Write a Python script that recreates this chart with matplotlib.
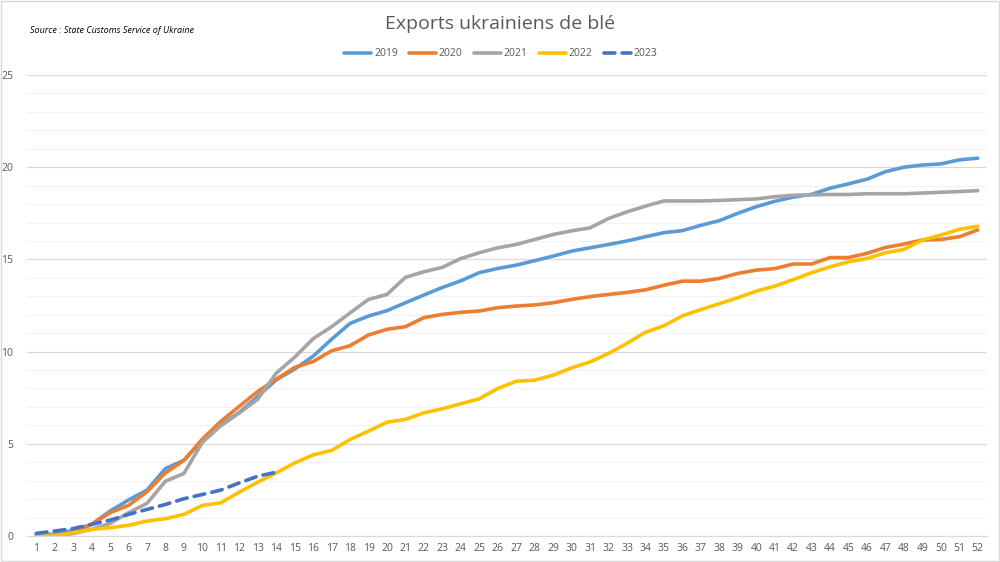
import matplotlib.pyplot as plt
from matplotlib.patches import Rectangle

plt.rcParams['font.family'] = ['Open Sans', 'DejaVu Sans']

# Exports cumulés de blé (Mt) par semaine de campagne
weeks = list(range(1, 53))

exports_2019 = [0.04, 0.1, 0.3, 0.63, 1.35, 1.95, 2.49, 3.66, 4.1, 5.2,
                6.04, 6.7, 7.57, 8.47, 9.05, 9.75, 10.67, 11.53, 11.93, 12.22,
                12.65, 13.07, 13.48, 13.84, 14.28, 14.51, 14.69, 14.93, 15.18, 15.45,
                15.63, 15.81, 16.0, 16.23, 16.45, 16.56, 16.85, 17.1, 17.5, 17.86,
                18.15, 18.38, 18.53, 18.86, 19.1, 19.35, 19.76, 20.0, 20.12, 20.18,
                20.4, 20.49]
exports_2020 = [0.0, 0.04, 0.18, 0.63, 1.26, 1.66, 2.4, 3.42, 4.1, 5.26,
                6.22, 7.03, 7.84, 8.5, 9.14, 9.46, 10.04, 10.32, 10.9, 11.21,
                11.35, 11.84, 12.02, 12.13, 12.2, 12.38, 12.47, 12.53, 12.65, 12.83,
                12.98, 13.1, 13.21, 13.35, 13.6, 13.82, 13.82, 13.97, 14.24, 14.42,
                14.5, 14.75, 14.75, 15.1, 15.1, 15.33, 15.65, 15.83, 16.05, 16.08,
                16.23, 16.6]
exports_2021 = [0.0, 0.04, 0.13, 0.36, 0.68, 1.26, 1.77, 2.97, 3.39, 5.08,
                5.98, 6.67, 7.42, 8.83, 9.7, 10.7, 11.35, 12.1, 12.83, 13.1,
                14.03, 14.33, 14.57, 15.05, 15.36, 15.63, 15.81, 16.08, 16.35, 16.55,
                16.71, 17.22, 17.58, 17.89, 18.17, 18.17, 18.17, 18.2, 18.24, 18.28,
                18.4, 18.48, 18.5, 18.52, 18.52, 18.56, 18.56, 18.56, 18.6, 18.64,
                18.68, 18.73]
exports_2022 = [0.0, 0.0, 0.18, 0.36, 0.45, 0.58, 0.81, 0.94, 1.17, 1.66,
                1.8, 2.38, 2.92, 3.42, 3.96, 4.4, 4.64, 5.23, 5.69, 6.17,
                6.32, 6.68, 6.9, 7.17, 7.44, 8.0, 8.39, 8.45, 8.72, 9.12,
                9.44, 9.9, 10.45, 11.05, 11.4, 11.94, 12.28, 12.6, 12.92, 13.28,
                13.55, 13.9, 14.28, 14.6, 14.87, 15.05, 15.36, 15.54, 16.05, 16.32,
                16.63, 16.8]
exports_2023 = [0.14, 0.27, 0.4, 0.63, 0.86, 1.17, 1.44, 1.71, 2.02, 2.25,
                2.49, 2.88, 3.24, 3.46]

series = [
    ('2019', exports_2019, '#5B9BD5', '-'),
    ('2020', exports_2020, '#ED7D31', '-'),
    ('2021', exports_2021, '#A5A5A5', '-'),
    ('2022', exports_2022, '#FFC000', '-'),
    ('2023', exports_2023, '#4472C4', '--'),
]

fig = plt.figure(figsize=(10, 5.62), dpi=100)
ax = fig.add_axes([0.027, 0.0463, 0.96, 0.8202])

for label, values, color, style in series:
    ax.plot(weeks[:len(values)], values, color=color, linestyle=style,
            linewidth=2.6, label=label, solid_capstyle='round',
            dash_capstyle='round', dashes=(3, 2) if style == '--' else (None, None))

ax.set_xlim(0.5, 52.5)
ax.set_ylim(0, 25)
ax.set_xticks(weeks)
ax.set_xticklabels([str(w) for w in weeks])
ax.set_yticks(range(0, 26, 5))
ax.set_yticks(range(0, 26), minor=True)
ax.grid(axis='y', which='major', color='#d9d9d9', linewidth=0.9)
ax.grid(axis='y', which='minor', color='#f2f2f2', linewidth=0.9)
ax.set_axisbelow(True)
for side in ['top', 'right', 'left']:
    ax.spines[side].set_visible(False)
ax.spines['bottom'].set_color('#d9d9d9')
ax.tick_params(axis='both', which='both', length=0, colors='#595959', labelsize=7.5)
ax.tick_params(axis='y', pad=10)
ax.tick_params(axis='x', pad=5)

fig.text(0.5, 0.957, 'Exports ukrainiens de blé', ha='center', va='center',
         fontsize=14, color='#595959')
fig.text(0.03, 0.946, 'Source : State Customs Service of Ukraine', ha='left',
         va='center', fontsize=6.5, style='italic', color='black')

ax.legend(loc='center', bbox_to_anchor=(0.501, 0.904), bbox_transform=fig.transFigure,
          ncol=5, frameon=False, fontsize=7.5, handlelength=2.6, columnspacing=1.1,
          handletextpad=0.25, labelcolor='#595959')

fig.patches.append(Rectangle((0.001, 0.001), 0.998, 0.998, transform=fig.transFigure,
                             fill=False, edgecolor='#d9d9d9', linewidth=1))

fig.savefig('out.png', dpi=100)
